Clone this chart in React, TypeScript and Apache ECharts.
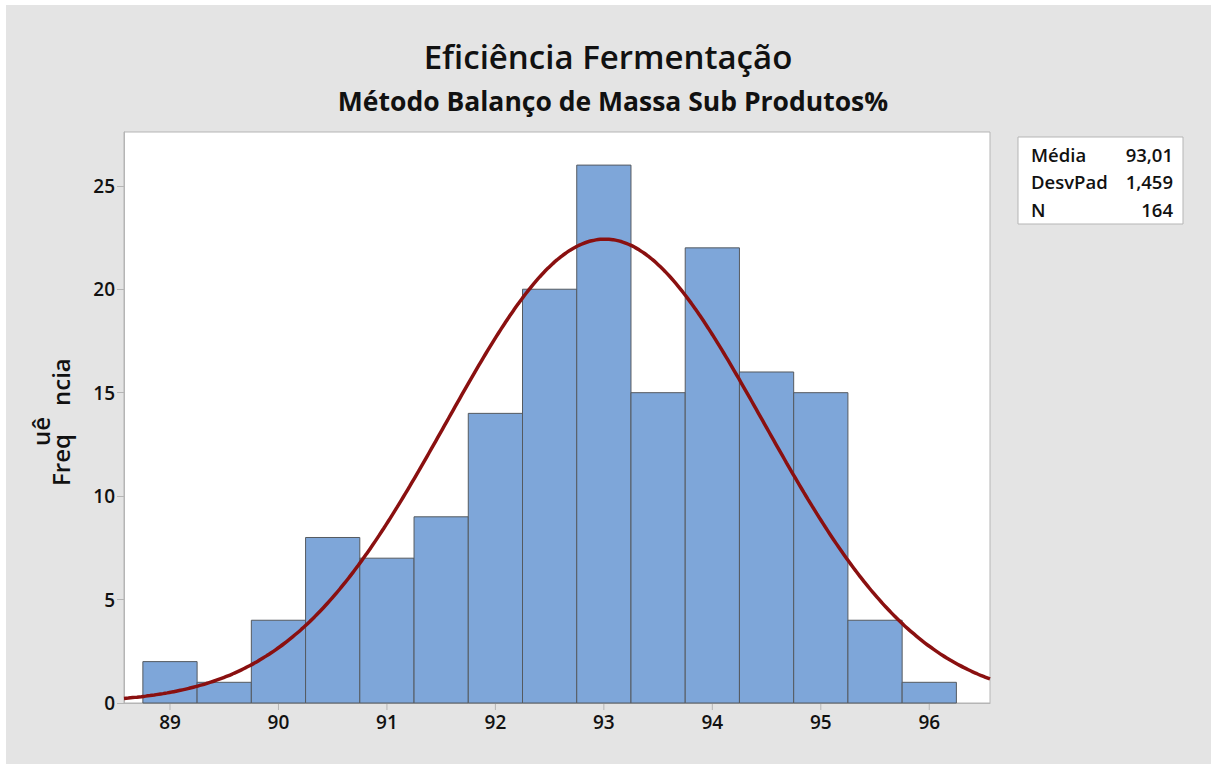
import React, { useEffect, useRef } from "react";
import * as echarts from "echarts";

const binCenters = [89, 89.5, 90, 90.5, 91, 91.5, 92, 92.5, 93, 93.5, 94, 94.5, 95, 95.5, 96];
const frequencies = [2, 1, 4, 8, 7, 9, 14, 20, 26, 15, 22, 16, 15, 4, 1];
const binWidth = 0.5;
const xTicks = [89, 90, 91, 92, 93, 94, 95, 96];
const statLabels = ["Média", "DesvPad", "N"];
const statValues = ["93,01", "1,459", "164"];
const mean = 93.01;
const sd = 1.459;
const n = 164;

const X_MIN = 88.576;
const X_MAX = 96.56;

function normalCurve(): number[][] {
  const pts: number[][] = [];
  const steps = 200;
  for (let i = 0; i <= steps; i++) {
    const x = X_MIN + ((X_MAX - X_MIN) * i) / steps;
    const z = (x - mean) / sd;
    const y = (n * binWidth) / (sd * Math.sqrt(2 * Math.PI)) * Math.exp(-0.5 * z * z);
    pts.push([x, y]);
  }
  return pts;
}

const FONT = "'Open Sans', 'Noto Sans', sans-serif";

export default function App() {
  const ref = useRef<HTMLDivElement>(null);
  useEffect(() => {
    if (!ref.current) return;
    const chart = echarts.init(ref.current, undefined, { renderer: "svg" });
    const legendX = 1018;
    const legendY = 137;
    const statGraphics: any[] = [];
    statLabels.forEach((lab, i) => {
      statGraphics.push({
        type: "text",
        x: legendX + 13,
        y: legendY + 17 + i * 27.5,
        style: { text: lab, font: `600 18.5px ${FONT}`, fill: "#111", align: "left", verticalAlign: "middle" },
      });
      statGraphics.push({
        type: "text",
        x: legendX + 155,
        y: legendY + 17 + i * 27.5,
        style: { text: statValues[i], font: `600 18.5px ${FONT}`, fill: "#111", align: "right", verticalAlign: "middle" },
      });
    });
    chart.setOption({
      animation: false,
      backgroundColor: "#ffffff",
      graphic: [
        { type: "rect", z: -10, shape: { x: 6, y: 5, width: 1205, height: 759 }, style: { fill: "#e4e4e4" } },
        {
          type: "rect",
          z: -9,
          shape: { x: legendX, y: legendY, width: 165, height: 87 },
          style: { fill: "#ffffff", stroke: "#b5b5b5", lineWidth: 1 },
        },
        ...statGraphics,
        {
          type: "text",
          x: 60,
          y: 486,
          rotation: Math.PI / 2,
          style: { text: "Freq", font: `600 24px ${FONT}`, fill: "#111", align: "left", verticalAlign: "middle" },
        },
        {
          type: "text",
          x: 40,
          y: 446,
          rotation: Math.PI / 2,
          style: { text: "uê", font: `600 24px ${FONT}`, fill: "#111", align: "left", verticalAlign: "middle" },
        },
        {
          type: "text",
          x: 60,
          y: 406,
          rotation: Math.PI / 2,
          style: { text: "ncia", font: `600 24px ${FONT}`, fill: "#111", align: "left", verticalAlign: "middle" },
        },
      ],
      title: [
        {
          text: "Eficiência Fermentação",
          left: 603,
          top: 35,
          textAlign: "center",
          textStyle: { fontFamily: FONT, fontWeight: 600, fontSize: 33, color: "#111" },
        },
        {
          text: "Método Balanço de Massa Sub Produtos%",
          left: 608,
          top: 82,
          textAlign: "center",
          textStyle: { fontFamily: FONT, fontWeight: 700, fontSize: 26.5, color: "#111" },
        },
      ],
      grid: { left: 124, top: 132, width: 866, height: 571, show: true, backgroundColor: "#ffffff", borderColor: "#b5b5b5", borderWidth: 1 },
      xAxis: {
        type: "value",
        min: X_MIN,
        max: X_MAX,
        axisLine: { show: true, lineStyle: { color: "#b5b5b5" } },
        axisTick: { show: false },
        axisLabel: { show: false },
        splitLine: { show: false },
      },
      yAxis: {
        type: "value",
        min: 0,
        max: 27.6,
        interval: 5,
        axisLine: { show: true, lineStyle: { color: "#b5b5b5" } },
        axisTick: { show: true, length: 7, lineStyle: { color: "#b5b5b5" } },
        axisLabel: {
          fontFamily: FONT,
          fontSize: 19,
          fontWeight: 600,
          color: "#111",
          margin: 9,
          showMaxLabel: false,
          formatter: (v: number) => (v % 5 === 0 ? String(v) : ""),
        },
        splitLine: { show: false },
      },
      series: [
        {
          type: "custom",
          z: 2,
          data: binCenters.map((c, i) => [c, frequencies[i]]),
          renderItem: (params: any, api: any) => {
            const c = api.value(0);
            const f = api.value(1);
            const p0 = api.coord([c - binWidth / 2, f]);
            const p1 = api.coord([c + binWidth / 2, 0]);
            return {
              type: "rect",
              shape: { x: p0[0], y: p0[1], width: p1[0] - p0[0], height: p1[1] - p0[1] },
              style: { fill: "#7ea6d9", stroke: "#555a60", lineWidth: 1 },
            };
          },
        },
        {
          type: "custom",
          z: 1,
          silent: true,
          data: xTicks.map((t) => [t]),
          renderItem: (params: any, api: any) => {
            const p = api.coord([api.value(0), 0]);
            return {
              type: "group",
              children: [
                { type: "line", shape: { x1: p[0], y1: p[1], x2: p[0], y2: p[1] + 7 }, style: { stroke: "#b5b5b5", lineWidth: 1 } },
                {
                  type: "text",
                  x: p[0],
                  y: p[1] + 9,
                  style: { text: String(api.value(0)), font: `600 19px ${FONT}`, fill: "#111", align: "center", verticalAlign: "top" },
                },
              ],
            };
          },
        },
        {
          type: "line",
          z: 3,
          data: normalCurve(),
          showSymbol: false,
          smooth: true,
          clip: true,
          lineStyle: { color: "#8a1010", width: 3.5 },
        },
      ],
    });
    return () => chart.dispose();
  }, []);
  return <div ref={ref} style={{ position: "absolute", left: 0, top: 0, width: 1211, height: 764 }} />;
}
